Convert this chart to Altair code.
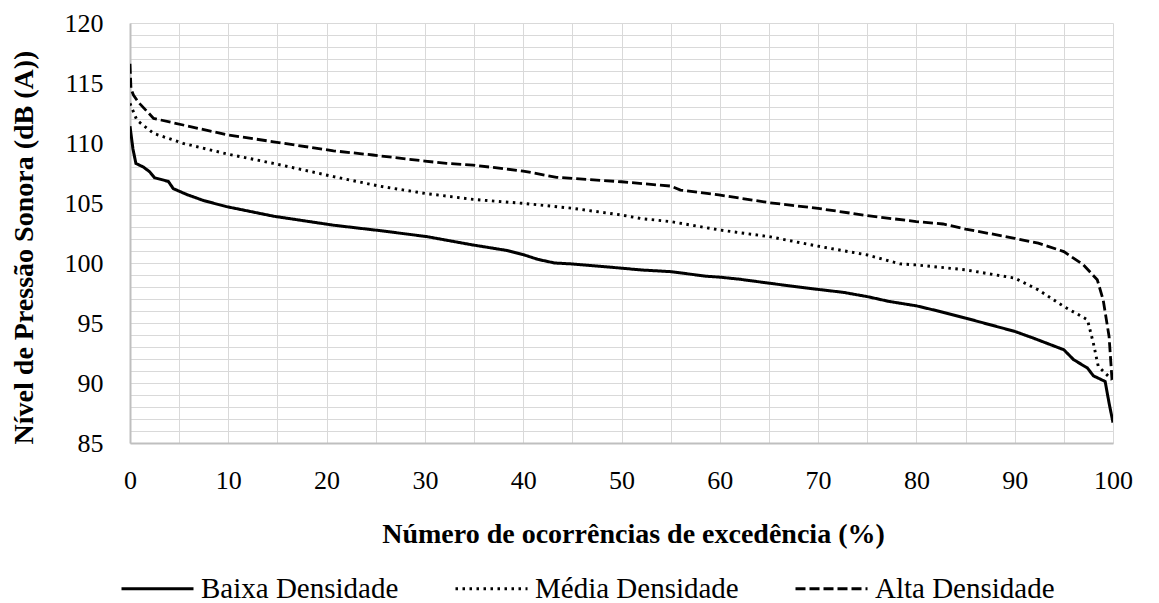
import altair as alt
import pandas as pd

# ---- data ----
series_names = ["Baixa Densidade", "Média Densidade", "Alta Densidade"]

baixa_x = [0, 0.3, 0.6, 1.35, 2.0, 2.5, 3.9, 4.4, 5.8, 7.5, 9.8, 14.6, 20.7, 25.4,
           30.2, 32.2, 34.9, 38.3, 40, 41.5, 43.2, 45, 50, 52, 55, 58.6, 60, 62, 65,
           68, 70, 72.6, 75, 77.2, 80, 82.4, 85, 90, 91.9, 95, 96, 97.4, 98.0, 99.2,
           99.6, 100]
baixa_y = [111.4, 109.5, 108.3, 108.0, 107.6, 107.1, 106.8, 106.2, 105.7, 105.2, 104.7,
           103.9, 103.15, 102.7, 102.2, 101.9, 101.5, 101.05, 100.7, 100.3, 100.0, 99.92,
           99.57, 99.42, 99.28, 98.9, 98.82, 98.65, 98.32, 98.0, 97.8, 97.55, 97.2, 96.8,
           96.43, 95.96, 95.41, 94.3, 93.74, 92.77, 91.94, 91.25, 90.6, 90.13, 88.33, 86.7]

media_x = [0, 0.7, 2.4, 5.4, 9.8, 14.6, 20.7, 25.4, 30, 34.9, 40, 45, 50, 52, 55, 60,
           65, 70, 75, 78.3, 80, 85, 90, 92.4, 95, 97.4, 98.0, 98.5, 99.9]
media_y = [113.3, 111.9, 110.8, 109.97, 109.1, 108.3, 107.2, 106.4, 105.8, 105.3, 104.97,
           104.56, 104.0, 103.7, 103.45, 102.75, 102.2, 101.4, 100.67, 99.93, 99.84, 99.43,
           98.74, 97.76, 96.38, 95.27, 93.33, 91.39, 90.27]

alta_x = [0, 0.1, 0.35, 0.85, 2.4, 5.4, 9.8, 14.6, 20.7, 24.7, 30, 32.2, 34.9, 40, 43.4,
          45, 50, 55, 56, 59.9, 65, 70, 75, 80, 82.7, 85, 90, 92.4, 95, 97, 98.4, 99.0,
          99.6, 99.9]
alta_y = [116.6, 114.5, 114.0, 113.4, 112.05, 111.5, 110.7, 110.1, 109.35, 109.0, 108.49,
          108.3, 108.16, 107.66, 107.14, 107.05, 106.77, 106.41, 106.08, 105.67, 105.03,
          104.55, 103.95, 103.45, 103.25, 102.83, 102.06, 101.65, 100.95, 99.84, 98.6,
          96.93, 93.88, 90.27]

x_ticks = list(range(0, 101, 5))
y_ticks = list(range(85, 121))

x_title = "Número de ocorrências de excedência (%)"
y_title = "Nível de Pressão Sonora (dB (A))"

rows = []
for name, xs, ys in zip(series_names, [baixa_x, media_x, alta_x], [baixa_y, media_y, alta_y]):
    for i, (a, b) in enumerate(zip(xs, ys)):
        rows.append({"serie": name, "x": a, "y": b, "i": i})
df = pd.DataFrame(rows)

FONT = "Liberation Serif"

chart = alt.Chart(df).mark_line(color="black", strokeCap="butt", clip=True).encode(
    x=alt.X("x:Q",
            scale=alt.Scale(domain=[0, 100], nice=False),
            axis=alt.Axis(values=x_ticks,
                          labelExpr="datum.value % 10 === 0 ? datum.label : ''",
                          labelFont=FONT, labelFontSize=26, labelFlush=False,
                          title=x_title, labelPadding=45, labelBaseline="alphabetic",
                          titleX=503, titleY=99, titleBaseline="alphabetic",
                          titleAnchor="start", titleAlign="center")),
    y=alt.Y("y:Q",
            scale=alt.Scale(domain=[85, 120], nice=False, zero=False),
            axis=alt.Axis(values=y_ticks,
                          labelExpr="datum.value % 5 === 0 ? datum.label : ''",
                          labelFont=FONT, labelFontSize=26, labelFlush=False,
                          title=y_title, labelPadding=27,
                          titleX=-98, titleY=224, titleAngle=270,
                          titleBaseline="alphabetic", titleAlign="center")),
    strokeDash=alt.StrokeDash("serie:N",
                              scale=alt.Scale(domain=series_names,
                                              range=[[1, 0], [2.5, 4.5], [10, 4]]),
                              legend=alt.Legend(title=None, orient="none",
                                                direction="horizontal",
                                                legendX=-10, legendY=528,
                                                symbolType="stroke", symbolSize=5184,
                                                symbolStrokeWidth=3,
                                                symbolStrokeColor="black",
                                                labelFont=FONT, labelFontSize=29,
                                                labelColor="black", labelOffset=6,
                                                columnPadding=50, labelLimit=400)),
    strokeWidth=alt.StrokeWidth("serie:N",
                                scale=alt.Scale(domain=series_names, range=[3, 2.8, 3.5]),
                                legend=None),
    order="i:Q",
).properties(
    width=983, height=420,
    padding={"left": 122, "top": 15, "right": 35, "bottom": 160},
    autosize=alt.AutoSizeParams(type="none"),
).configure_view(
    strokeWidth=0
).configure_axis(
    gridColor="#d9d9d9", gridWidth=1,
    domainColor="#bfbfbf", domainWidth=2,
    ticks=False, tickSize=0,
    labelFont=FONT, labelFontSize=26, labelColor="black",
    titleFont=FONT, titleFontSize=28, titleFontWeight="bold", titleColor="black",
)

chart.save("out.html", embed_options={"renderer": "svg", "actions": False})
